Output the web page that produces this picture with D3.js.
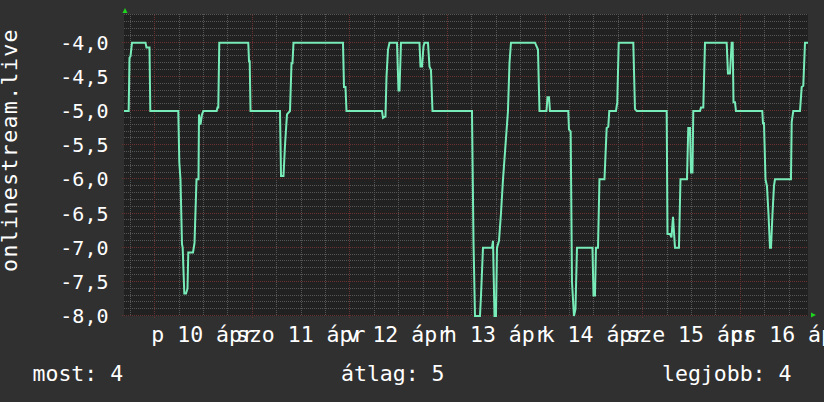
<!DOCTYPE html>
<html>
<head>
<meta charset="utf-8">
<script src="https://cdn.jsdelivr.net/npm/d3@7"></script>
<style>
  body { margin: 0; background: #303030; }
  text { font-family: "DejaVu Sans Mono", monospace; fill: #ffffff; }
</style>
</head>
<body>
<div id="chart"></div>
<script>
// time in hours from 2020-04-10 00:00, value of onlinestream.live
var hours = [
  -7.45, -6.30, -6.10, -5.85, -5.48, -2.16, -1.92, -1.18, -0.98, 5.90,
  6.15, 6.44, 6.81, 6.98, 7.38, 7.80, 8.16, 8.36, 9.52, 9.89,
  10.38, 10.87, 10.99, 11.36, 11.73, 12.05, 15.34, 15.54, 15.74, 15.98,
  23.11, 23.29, 23.46, 23.66,
  30.91, 31.16, 31.77, 32.14, 32.63, 33.37, 33.74, 33.98, 34.23, 46.40,
  46.65, 47.02, 47.26, 55.99, 56.24, 56.85, 57.10, 57.47, 57.84, 59.68,
  60.05, 60.29, 60.66, 65.21, 65.46, 65.83, 66.20, 66.44, 67.30, 67.67,
  68.04, 68.41,
  78.12, 78.49, 78.86, 80.09, 80.34, 80.83, 83.04, 83.29, 83.66, 84.02,
  84.27, 84.76, 85.25, 85.75, 86.36, 86.97, 87.34, 87.71, 93.61, 93.98,
  94.35, 94.72, 96.44, 96.69, 97.06, 97.30, 101.80,
  101.97, 102.39, 102.71, 103.20, 103.57, 103.94, 107.75, 108.00, 108.37, 108.61,
  109.11, 109.47, 110.70, 111.24, 111.64, 111.88, 113.53, 113.85, 114.20, 117.79,
  118.20, 118.62, 126.00,
  126.20, 126.81, 127.18, 127.55, 128.04, 129.02, 129.39, 130.99, 131.31, 131.73,
  131.97, 132.34, 132.54, 134.19, 134.43, 135.00, 135.42, 140.75, 141.07, 141.56,
  141.98, 142.23, 142.43, 142.79, 143.04, 149.51,
  149.68, 149.93, 150.30, 150.66, 151.03, 151.40, 151.65, 152.02, 152.38, 152.63,
  156.56, 156.74, 157.13, 158.78, 159.20, 159.59, 160.01, 160.75
];
var values = [
  -5.0, -5.0, -4.22, -4.2, -4.0, -4.0, -4.07, -4.07, -5.0, -5.0,
  -5.75, -6.0, -6.95, -7.0, -7.67, -7.67, -7.6, -7.07, -7.07, -6.93,
  -6.0, -6.0, -5.05, -5.2, -5.05, -5.0, -5.0, -4.95, -4.95, -4.0,
  -4.0, -4.27, -4.27, -5.0,
  -5.0, -5.95, -5.95, -5.5, -5.05, -5.0, -4.3, -4.3, -4.0, -4.0,
  -4.65, -4.65, -5.0, -5.0, -5.1, -5.08, -4.5, -4.1, -4.0, -4.0,
  -4.7, -4.7, -4.0, -4.0, -4.35, -4.35, -4.05, -4.0, -4.0, -4.35,
  -4.4, -5.0,
  -5.0, -6.9, -8.0, -8.0, -7.7, -7.0, -7.0, -6.9, -8.0, -8.0,
  -7.0, -6.9, -6.5, -6.0, -5.5, -5.0, -4.3, -4.0, -4.0, -4.05,
  -4.1, -5.0, -5.0, -4.8, -4.8, -5.0, -5.0,
  -5.27, -5.3, -7.5, -8.0, -7.9, -7.0, -7.0, -7.7, -7.7, -7.0,
  -7.0, -6.0, -6.0, -5.25, -5.23, -5.0, -5.0, -4.87, -4.0, -4.0,
  -4.97, -5.0, -5.0,
  -6.8, -6.8, -6.85, -6.55, -7.0, -7.0, -6.0, -6.0, -5.25, -5.25,
  -5.9, -5.9, -5.0, -5.0, -4.95, -4.95, -4.0, -4.0, -4.45, -4.45,
  -4.0, -4.0, -4.87, -4.87, -5.0, -5.0,
  -5.18, -5.18, -6.0, -6.1, -6.5, -7.0, -7.0, -6.5, -6.1, -6.0,
  -6.0, -5.16, -5.0, -5.0, -4.65, -4.63, -4.0, -4.0
];

// x labels, one per day, centred at noon
var labelHours = [12, 36, 60, 84, 108, 132, 156];
var weekdays = ["p", "szo", "v", "h", "k", "sze", "cs"];
var dayNums = [10, 11, 12, 13, 14, 15, 16];
var monthName = "ápr";

var yMajor = [-8, -7.5, -7, -6.5, -6, -5.5, -5, -4.5, -4];

var legendNames = ["most", "átlag", "legjobb"];
var legendValues = [4, 5, 4];

var svgWidth = 824;
var svgHeight = 402;
var plot = { left: 124, right: 808, top: 14, bottom: 316 };

var svg = d3.select("#chart")
  .append("svg")
  .attr("width", svgWidth)
  .attr("height", svgHeight);

svg.append("rect")
  .attr("width", svgWidth)
  .attr("height", svgHeight)
  .attr("fill", "#303030");

var x = d3.scaleLinear()
  .domain([-7.45, 160.75])
  .range([plot.left, plot.right]);

var y = d3.scaleLinear()
  .domain([-8, -3.58])
  .range([plot.bottom, plot.top]);

svg.append("rect")
  .attr("x", plot.left)
  .attr("y", plot.top)
  .attr("width", plot.right - plot.left)
  .attr("height", plot.bottom - plot.top)
  .attr("fill", "#212121");

// minor grid: every 0.1 and every 6 hours
var yMinor = d3.range(-80, -35).map(d => d / 10).filter(d => Math.abs(d * 2 - Math.round(d * 2)) > 1e-6);
var xMinor = d3.range(-6, 161, 6).filter(d => d % 24 !== 0);
var xMajor = d3.range(0, 161, 24);

// snap the grid lines to the pixel centre so every dotted line looks the same
function snapY(g) {
  g.selectAll(".tick").attr("transform", d => `translate(0,${Math.round(y(d)) - 0.5})`);
}
function snapX(g) {
  g.selectAll(".tick").attr("transform", d => `translate(${Math.round(x(d)) + 0.5},0)`);
}

var grid = svg.append("g");

grid.append("g")
  .attr("transform", `translate(${plot.left},0)`)
  .call(d3.axisLeft(y).tickValues(yMinor).tickSize(-(plot.right - plot.left)).tickFormat(""))
  .call(g => g.select(".domain").remove())
  .call(snapY)
  .selectAll("line")
  .attr("stroke", "#555555")
  .attr("stroke-dasharray", "1,1");

grid.append("g")
  .attr("transform", `translate(0,${plot.top})`)
  .call(d3.axisTop(x).tickValues(xMinor).tickSize(-(plot.bottom - plot.top)).tickFormat(""))
  .call(g => g.select(".domain").remove())
  .call(snapX)
  .selectAll("line")
  .attr("stroke", "#555555")
  .attr("stroke-dasharray", "1,1");

// major grid: every 0.5 and every midnight
grid.append("g")
  .attr("transform", `translate(${plot.left - 2},0)`)
  .call(d3.axisLeft(y).tickValues(yMajor).tickSize(-(plot.right - plot.left + 2)).tickFormat(""))
  .call(g => g.select(".domain").remove())
  .call(snapY)
  .selectAll("line")
  .attr("stroke", "#6b3131")
  .attr("stroke-dasharray", "1,1");

grid.append("g")
  .attr("transform", `translate(0,${plot.bottom + 2})`)
  .call(d3.axisBottom(x).tickValues(xMajor).tickSize(-(plot.bottom - plot.top + 2)).tickFormat(""))
  .call(g => g.select(".domain").remove())
  .call(snapX)
  .selectAll("line")
  .attr("stroke", "#6b3131")
  .attr("stroke-dasharray", "1,1");

// data line
svg.append("clipPath")
  .attr("id", "clip")
  .append("rect")
  .attr("x", plot.left)
  .attr("y", plot.top - 2)
  .attr("width", plot.right - plot.left)
  .attr("height", plot.bottom - plot.top + 4);

var data = hours.map((h, i) => ({ h: h, v: values[i] }));

svg.append("path")
  .datum(data)
  .attr("clip-path", "url(#clip)")
  .attr("fill", "none")
  .attr("stroke", "#78ecb8")
  .attr("stroke-width", 2)
  .attr("stroke-linejoin", "miter")
  .attr("d", d3.line().x(d => x(d.h)).y(d => y(d.v)));

// axis arrows
svg.append("path")
  .attr("d", "M122.5,13 L125,8 L127.5,13 Z")
  .attr("fill", "#1ed41e");
svg.append("path")
  .attr("d", "M811,312.5 L816,315 L811,317.5 Z")
  .attr("fill", "#1ed41e");

// y tick labels
var locale = d3.formatLocale({ decimal: ",", thousands: " ", grouping: [3], currency: ["", ""], minus: "-" });
var fmt = locale.format(".1f");

svg.append("g")
  .selectAll("text")
  .data(yMajor)
  .enter()
  .append("text")
  .attr("x", 108.5)
  .attr("y", d => y(d) + 7)
  .attr("text-anchor", "end")
  .attr("font-size", "20px")
  .text(d => fmt(d));

// x tick labels (they overlap in the original too)
svg.append("g")
  .selectAll("text")
  .data(labelHours)
  .enter()
  .append("text")
  .attr("x", d => x(d))
  .attr("y", 341.5)
  .attr("text-anchor", "middle")
  .attr("font-size", "21.5px")
  .text((d, i) => `${weekdays[i]} ${dayNums[i]} ${monthName}`);

// y title
svg.append("text")
  .attr("transform", "translate(17,150) rotate(-90)")
  .attr("text-anchor", "middle")
  .attr("font-size", "21.5px")
  .attr("letter-spacing", "1.4px")
  .text("onlinestream.live");

// legend
var legendX = [32.5, 341, 662];
svg.append("g")
  .selectAll("text")
  .data(legendNames)
  .enter()
  .append("text")
  .attr("x", (d, i) => legendX[i])
  .attr("y", 381)
  .attr("font-size", "21.5px")
  .text((d, i) => `${d}: ${legendValues[i]}`);
</script>
</body>
</html>
